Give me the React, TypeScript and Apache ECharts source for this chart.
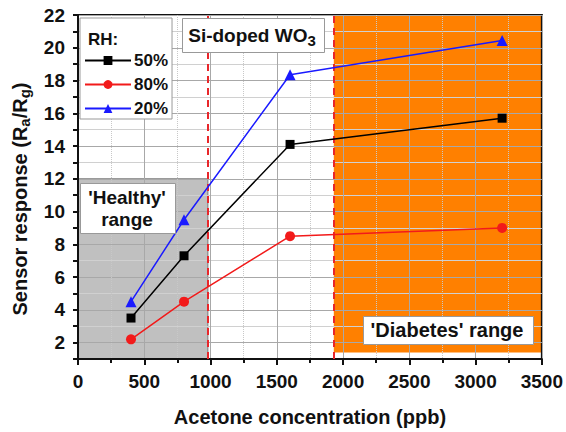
import React, { useEffect, useRef } from "react";
import * as echarts from "echarts";

const concentrations = [400, 800, 1600, 3200];
const rh50 = [3.5, 7.3, 14.1, 15.7];
const rh80 = [2.2, 4.5, 8.5, 9.0];
const rh20 = [4.5, 9.5, 18.35, 20.45];
const seriesNames = ["50%", "80%", "20%"];
const healthyRange = { x: [0, 980], y: [1, 12] };
const diabetesRange = { x: [1930, 3500], y: [1.4, 22] };
const thresholdLines = [980, 1930];

const FONT = "'Liberation Sans', Arial, sans-serif";

function pairs(vals: number[]) {
  return concentrations.map((c, i) => [c, vals[i]]);
}

export default function App() {
  const ref = useRef<HTMLDivElement>(null);
  useEffect(() => {
    if (!ref.current) return;
    const chart = echarts.init(ref.current, null, { renderer: "svg" });
    const textBase = { fontFamily: FONT, fontWeight: "bold", color: "#111" };
    const boxText = { fontFamily: FONT, fontWeight: "bold", fontSize: 19, fill: "#111" };
    chart.setOption({
      animation: false,
      textStyle: { fontFamily: FONT },
      grid: {
        left: 78,
        right: 22,
        top: 15,
        bottom: 70,
        show: true,
        borderColor: "#111",
        borderWidth: 2,
        backgroundColor: "transparent",
      },
      legend: {
        data: seriesNames,
        orient: "vertical",
        left: 80,
        top: 18,
        padding: [34, 4, 2, 4],
        itemGap: 7,
        itemWidth: 46,
        itemHeight: 11,
        backgroundColor: "#fff",
        borderColor: "#999",
        borderWidth: 1,
        borderRadius: 0,
        textStyle: { ...textBase, fontSize: 17, padding: [0, 0, 0, -2] },
      },
      xAxis: {
        type: "value",
        min: 0,
        max: 3500,
        interval: 500,
        name: "Acetone concentration (ppb)",
        nameLocation: "middle",
        nameGap: 48,
        nameTextStyle: { ...textBase, fontSize: 20 },
        axisLine: { show: true, onZero: false, lineStyle: { color: "#111", width: 2 } },
        axisTick: { show: true, length: 6, lineStyle: { color: "#111", width: 2 } },
        minorTick: { show: true, splitNumber: 2, length: 4, lineStyle: { color: "#111", width: 2 } },
        axisLabel: { ...textBase, fontSize: 19, margin: 13, formatter: (v: number) => String(v) },
        splitLine: { show: true, lineStyle: { color: "#a8a8a8", width: 1 } },
        minorSplitLine: { show: true, lineStyle: { color: "#c8c8c8", width: 1, type: "dotted" } },
      },
      yAxis: {
        type: "value",
        min: 1,
        max: 22,
        interval: 1,
        name: "Sensor response (R{sub|a}/R{sub|g})",
        nameLocation: "middle",
        nameGap: 46,
        nameTextStyle: {
          ...textBase,
          fontSize: 20,
          padding: [0, 24, 0, 0],
          rich: { sub: { ...textBase, fontSize: 15, padding: [9, 0, 0, 0] } },
        },
        axisLine: { show: true, lineStyle: { color: "#111", width: 2 } },
        axisTick: { show: true, length: 5, lineStyle: { color: "#111", width: 2 } },
        axisLabel: {
          ...textBase,
          fontSize: 19,
          margin: 13,
          formatter: (v: number) => (v % 2 === 0 ? String(v) : ""),
        },
        splitLine: { show: true, lineStyle: { color: ["#d0d0d0", "#a8a8a8"], width: 1 } },
      },
      series: [
        {
          name: "regions",
          type: "line",
          data: [],
          z: -1,
          silent: true,
          markArea: {
            silent: true,
            z: -1,
            data: [
              [
                {
                  coord: [healthyRange.x[0], healthyRange.y[1]],
                  itemStyle: { color: "#c0c0c0", borderColor: "#777", borderWidth: 1 },
                },
                { coord: [healthyRange.x[1], healthyRange.y[0]] },
              ],
              [
                {
                  coord: [diabetesRange.x[0], diabetesRange.y[1]],
                  itemStyle: { color: "#ff8000", borderWidth: 0 },
                },
                { coord: [diabetesRange.x[1], diabetesRange.y[0]] },
              ],
            ],
          },
          markLine: {
            silent: true,
            z: 1,
            symbol: "none",
            label: { show: false },
            lineStyle: { color: "#e8262a", type: [7, 5], width: 2 },
            data: thresholdLines.map((x) => ({ xAxis: x })),
          },
        },
        {
          name: seriesNames[0],
          type: "line",
          data: pairs(rh50),
          symbol: "rect",
          symbolSize: 9,
          itemStyle: { color: "#000" },
          lineStyle: { color: "#000", width: 1.5 },
        },
        {
          name: seriesNames[1],
          type: "line",
          data: pairs(rh80),
          symbol: "circle",
          symbolSize: 10,
          itemStyle: { color: "#f21a1a" },
          lineStyle: { color: "#f21a1a", width: 1.5 },
        },
        {
          name: seriesNames[2],
          type: "line",
          data: pairs(rh20),
          symbol: "triangle",
          symbolSize: 11,
          itemStyle: { color: "#1a1aff" },
          lineStyle: { color: "#1a1aff", width: 1.5 },
        },
      ],
      graphic: [
        {
          type: "text",
          left: 88,
          top: 31,
          z: 100,
          style: { text: "RH:", ...boxText, fontSize: 17 },
        },
        {
          type: "rect",
          left: 182,
          top: 18,
          z: 100,
          shape: { x: 0, y: 0, width: 142, height: 34 },
          style: { fill: "#fff", stroke: "#999", lineWidth: 1 },
        },
        {
          type: "text",
          x: 252,
          y: 35,
          z: 101,
          style: {
            text: "Si-doped WO{sub|3}",
            align: "center",
            verticalAlign: "middle",
            ...boxText,
            rich: {
              sub: { ...boxText, fontSize: 15, padding: [10, 0, 0, 0] },
            },
          },
        },
        {
          type: "rect",
          left: 80,
          top: 183,
          z: 100,
          shape: { x: 0, y: 0, width: 95, height: 50 },
          style: { fill: "#fff", stroke: "#999", lineWidth: 1 },
        },
        {
          type: "text",
          x: 127,
          y: 208,
          z: 101,
          style: {
            text: "'Healthy'\nrange",
            align: "center",
            verticalAlign: "middle",
            lineHeight: 22,
            ...boxText,
          },
        },
        {
          type: "rect",
          left: 363,
          top: 316,
          z: 100,
          shape: { x: 0, y: 0, width: 170, height: 28 },
          style: { fill: "#fff", stroke: "#999", lineWidth: 1 },
        },
        {
          type: "text",
          x: 447,
          y: 330,
          z: 101,
          style: {
            text: "'Diabetes' range",
            align: "center",
            verticalAlign: "middle",
            ...boxText,
            fontSize: 20,
          },
        },
      ],
    });
    return () => chart.dispose();
  }, []);
  return (
    <div
      ref={ref}
      style={{ position: "fixed", left: 0, top: 0, width: 566, height: 432, background: "#fff" }}
    />
  );
}
